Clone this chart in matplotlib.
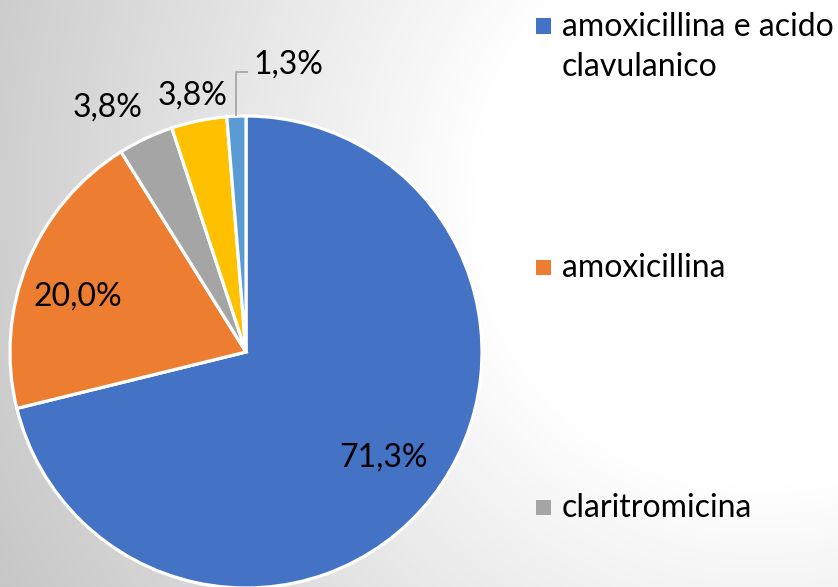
import numpy as np
import matplotlib
matplotlib.use("Agg")
import matplotlib.pyplot as plt
from matplotlib.patches import Rectangle

# Data
categories = [
    "amoxicillina e acido\nclavulanico",
    "amoxicillina",
    "claritromicina",
    "azitromicina",
    "cefixima",
]
shares = [71.3, 20.0, 3.8, 3.8, 1.3]
colors = ["#4472C4", "#ED7D31", "#A5A5A5", "#FFC000", "#5B9BD5"]
legend_count = 3  # only the first entries fit in the panel

# Layout (pixels)
W, H = 838, 587
DPI = 100
FONT = "Lato"
FS = 23
label_dist = [0.735, 0.75, 1.19, 1.11, None]
label_turn = [0.5, 3.7, 4.4, 0.3, 0.0]  # degrees added to the wedge mid angle

fig = plt.figure(figsize=(W / DPI, H / DPI), dpi=DPI)

# Soft radial background, white toward the upper right
bg = fig.add_axes([0, 0, 1, 1], zorder=0)
yy, xx = np.mgrid[0:H, 0:W]
d = np.hypot(xx - 760, yy - 200)
val = np.clip(255 - 0.1 * (d - 284), 190, 255) / 255.0
bg.imshow(np.dstack([val, val, val]), extent=[0, W, H, 0], aspect="auto",
          interpolation="bilinear")
bg.set_xlim(0, W)
bg.set_ylim(H, 0)
bg.axis("off")

# Pie axes
cx, cy, R = 246, 352, 236
ax = fig.add_axes([(cx - R) / W, (H - cy - R) / H, 2 * R / W, 2 * R / H], zorder=1)

wedges, _ = ax.pie(shares, colors=colors, startangle=90, counterclock=False,
                   radius=1.0, wedgeprops=dict(edgecolor="white", linewidth=2.3),
                   normalize=True)
ax.set_xlim(-1, 1)
ax.set_ylim(-1, 1)
ax.set_aspect("equal")
ax.axis("off")
ax.patch.set_alpha(0)
for w in wedges:
    w.set_clip_on(False)

for i, (w, s) in enumerate(zip(wedges, shares)):
    mid = np.deg2rad((w.theta1 + w.theta2) / 2 + label_turn[i])
    txt = f"{s:.1f}%".replace(".", ",")
    if label_dist[i] is not None:
        r = label_dist[i]
        ax.text(r * np.cos(mid), r * np.sin(mid), txt, ha="center", va="center",
                fontsize=FS, family=FONT, color="black", clip_on=False)
    else:
        x0, y0 = np.cos(mid), np.sin(mid)
        ytop = 1.186
        ax.plot([x0, x0, x0 + 0.05], [y0, ytop, ytop], color="#A6A6A6", lw=1.3,
                clip_on=False, solid_capstyle="butt")
        ax.text(x0 + 0.07, ytop + 0.03, txt, ha="left", va="center",
                fontsize=FS, family=FONT, color="black", clip_on=False)

# Legend
leg_y = [26, 267, 507]
sq = 15
for i in range(legend_count):
    yc = leg_y[i]
    fig.patches.append(Rectangle((536 / W, (H - yc - sq / 2) / H), sq / W, sq / H,
                                 transform=fig.transFigure, facecolor=colors[i],
                                 edgecolor="none", zorder=2))
    for j, line in enumerate(categories[i].split("\n")):
        fig.text(562 / W, (H - (yc + 10 + 40 * j)) / H, line, ha="left",
                 va="baseline", fontsize=FS, family=FONT, color="black", zorder=3)

fig.savefig("out.png", dpi=DPI)
